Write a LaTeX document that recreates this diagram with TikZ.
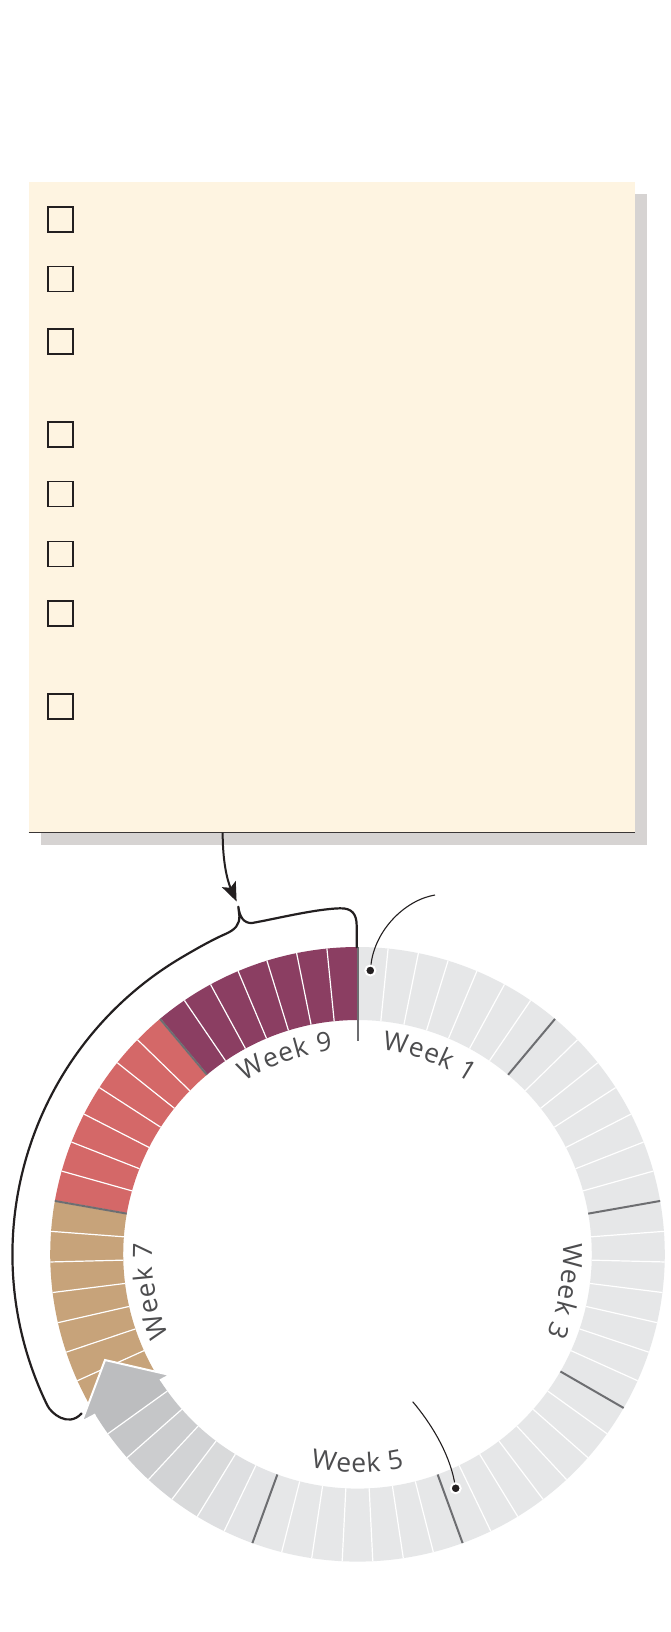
\documentclass[tikz,border=0pt]{standalone}
\usepackage{fontspec}
\newfontfamily\labfam{Open Sans}
\usetikzlibrary{arrows.meta}
\definecolor{panelfill}{HTML}{FEF4E1}
\definecolor{shadowcol}{HTML}{D6D3D2}
\definecolor{inkcol}{HTML}{231F20}
\definecolor{panelline}{HTML}{3A3636}
\definecolor{ringgray}{HTML}{E6E7E8}
\definecolor{arrowgray}{HTML}{BCBDBF}
\definecolor{wkline}{HTML}{6D6E71}
\definecolor{wkpurple}{HTML}{8B3E62}
\definecolor{wkred}{HTML}{D46868}
\definecolor{wktan}{HTML}{C7A37A}
\definecolor{labcol}{HTML}{4D4D4F}
\colorlet{wk1}{ringgray}
\colorlet{wk2}{ringgray}
\colorlet{wk3}{ringgray}
\colorlet{wk4}{ringgray}
\colorlet{wk5}{ringgray}
\colorlet{wk6}{ringgray}
\colorlet{wk7}{wktan}
\colorlet{wk8}{wkred}
\colorlet{wk9}{wkpurple}
\colorlet{w6d0}{arrowgray!6!ringgray}
\colorlet{w6d1}{arrowgray!18!ringgray}
\colorlet{w6d2}{arrowgray!32!ringgray}
\colorlet{w6d3}{arrowgray!47!ringgray}
\colorlet{w6d4}{arrowgray!62!ringgray}
\colorlet{w6d5}{arrowgray!78!ringgray}
\colorlet{w6d6}{arrowgray}
\newcommand\labfont{\labfam\fontsize{26.5}{28}\selectfont}
\newcommand\measurech[2]{\setbox0=\hbox{\labfont #2}\xdef#1{\strip@pt\wd0}}
\makeatletter
\AtBeginDocument{%
  \setbox0=\hbox{\labfont W}\xdef\chwW{\strip@pt\wd0}%
  \setbox0=\hbox{\labfont e}\xdef\chwe{\strip@pt\wd0}%
  \setbox0=\hbox{\labfont k}\xdef\chwk{\strip@pt\wd0}%
  \setbox0=\hbox{\labfont\ }\xdef\chwsp{\strip@pt\wd0}%
  \setbox0=\hbox{\labfont 1}\xdef\chwdig{\strip@pt\wd0}%
}
\makeatother
% #1 name, #2 centre angle, #3 baseline radius, #4 direction, #5 tracking, #6 char/width list
\newcommand\arclabel[6]{%
  \gdef\alNat{0}\gdef\alN{0}%
  \foreach \alC/\alW in {#6}{%
    \pgfmathsetmacro\alTmp{\alNat+\alW}\xdef\alNat{\alTmp}%
    \pgfmathsetmacro\alTmp{\alN+1}\xdef\alN{\alTmp}%
  }%
  \pgfmathsetmacro\alLen{\alNat+(#5)*(\alN-1)}%
  \gdef\alAcc{0}%
  \foreach \alC/\alW [count=\alI] in {#6}{%
    \pgfmathsetmacro\alAng{(#2)+(#4)*(\alLen/2-\alAcc-\alW/2)/(#3)*180/pi}%
    \pgfmathsetmacro\alRot{\alAng-(#4)*90}%
    \node[weeklab, rotate=\alRot] (#1-\alI) at (\alAng:#3) {\alC};%
    \pgfmathsetmacro\alTmp{\alAcc+\alW+(#5)}\xdef\alAcc{\alTmp}%
  }%
}
\tikzset{
  panelbox/.style={fill=panelfill, draw=none, minimum width=606.1pt, minimum height=650.5pt, inner sep=0pt, outer sep=0pt, anchor=north west},
  shadowbox/.style={fill=shadowcol, draw=none, minimum width=606.1pt, minimum height=650.5pt, inner sep=0pt, outer sep=0pt, anchor=north west},
  checkbox/.style={draw=inkcol, line width=1.6pt, minimum size=25pt, inner sep=0pt, outer sep=0pt},
  weeklab/.style={anchor=base, inner sep=0pt, outer sep=0pt, font=\labfont, text=labcol},
  daysep/.style={white, line width=1.2pt},
  weeksep/.style={wkline, line width=2pt},
  bracepath/.style={draw=inkcol, line width=2.2pt, line join=round, line cap=round},
  connector/.style={draw=inkcol, line width=2pt, -{Stealth[length=19pt, width=15pt, inset=4pt]}},
  callout/.style={draw=inkcol, line width=1.1pt},
  dot/.style={circle, fill=inkcol, draw=white, line width=2pt, minimum size=10pt, inner sep=0pt},
}
\begin{document}
\begin{tikzpicture}[x=1pt, y=1pt]
\useasboundingbox (0,0) rectangle (670,-1632);
\fill[white] (0,0) rectangle (670,-1632);
% panel
\node[shadowbox] (shadow) at (40.5,-194) {};
\node[panelbox] (panel) at (28.5,-182) {};
\draw[panelline, line width=1.6pt] (panel.south west) -- (panel.south east);
\foreach \yy [count=\i] in {219.6,278.9,341.4,434.3,493.9,553.9,613.6,706.4}
  \node[checkbox] (cb\i) at (60.3,-\yy) {};
% ring
\def\rin{234.3}
\def\rout{307.3}
\begin{scope}[shift={(357.5,-1254.3)}]
  \foreach \dy in {0,...,62}{%
    \pgfmathsetmacro\segA{90-\dy*40/7}%
    \pgfmathsetmacro\segB{90-(\dy+1)*40/7}%
    \pgfmathtruncatemacro\wkn{floor(\dy/7)+1}%
    \pgfmathtruncatemacro\dnum{\dy-7*(\wkn-1)}%
    \ifnum\wkn=6 \def\segcol{w6d\dnum}\else\def\segcol{wk\wkn}\fi
    \fill[fill=\segcol] (\segA:\rin) arc[start angle=\segA, end angle=\segB, radius=\rin]
      -- (\segB:\rout) arc[start angle=\segB, end angle=\segA, radius=\rout] -- cycle;
  }
  \foreach \dy in {1,...,62}{%
    \pgfmathsetmacro\segA{90-\dy*40/7}%
    \draw[daysep] (\segA:\rin) -- (\segA:\rout);
  }
  \foreach \k in {1,...,8}{%
    \pgfmathsetmacro\segA{90-40*\k}%
    \draw[weeksep] (\segA:\rin) -- (\segA:\rout);
  }
  \draw[weeksep] (90:213.5) -- (90:\rout);
  % arrow head
  \coordinate (ahtip) at (-252.5,-105.7);
  \coordinate (ahib) at (-187.5,-120.7);
  \coordinate (ahibk) at (-197.5,-126.0);
  \coordinate (ahobk) at (-262.2,-160.2);
  \coordinate (ahob) at (-275.8,-167.4);
  \fill[arrowgray] (ahtip) -- (ahib) -- (ahibk) -- (ahobk) -- (ahob) -- cycle;
  \draw[white, line width=2pt, line join=miter] (ahobk) -- (ahob) -- (ahtip) -- (ahib) -- (ahibk);
  % labels
  \arclabel{lw1}{70}{205.5}{1}{0.8}{W/\chwW,e/\chwe,e/\chwe,k/\chwk,{\ }/\chwsp,1/\chwdig}
  \arclabel{lw3}{-10}{205.5}{1}{0.8}{W/\chwW,e/\chwe,e/\chwe,k/\chwk,{\ }/\chwsp,3/\chwdig}
  \arclabel{lw5}{-90}{218}{-1}{0.8}{W/\chwW,e/\chwe,e/\chwe,k/\chwk,{\ }/\chwsp,5/\chwdig}
  \arclabel{lw7}{190}{205.5}{1}{0.8}{W/\chwW,e/\chwe,e/\chwe,k/\chwk,{\ }/\chwsp,7/\chwdig}
  \arclabel{lw9}{110}{205.5}{1}{0.8}{W/\chwW,e/\chwe,e/\chwe,k/\chwk,{\ }/\chwsp,9/\chwdig}
\end{scope}
% brace
\coordinate (braceend) at (81.5,-1413.5);
\coordinate (bracetip) at (238.3,-906.7);
\coordinate (bracefoot) at (356.7,-947.3);
\draw[bracepath] (braceend) .. controls (68,-1428) and (51,-1413) .. (47.4,-1405.5)
  arc[start angle=206, end angle=120, radius=345]
  .. controls (202,-945.5) and (215,-938.5) .. (226.5,-933.5)
  .. controls (235,-929.5) and (239.5,-925) .. (239.4,-916) -- (bracetip)
  .. controls (239.5,-917) and (244,-923.5) .. (252,-923)
  .. controls (275,-919) and (315,-909) .. (340,-908.3)
  .. controls (352,-908) and (356.7,-914) .. (356.7,-926) -- (bracefoot);
% connector from panel to brace
\coordinate (connstart) at (222.7,-832.5);
\coordinate (connend) at (236.6,-901.5);
\draw[connector] (connstart) .. controls (222.5,-860) and (227,-880) .. (connend);
% callouts
\node[dot] (dot1) at (370.3,-970.5) {};
\node[dot] (dot2) at (455.7,-1488.3) {};
\coordinate (c1start) at (435,-895);
\coordinate (c2start) at (412.7,-1401.7);
\draw[callout] (c1start) .. controls (405,-900) and (375,-930) .. (dot1);
\draw[callout] (c2start) .. controls (430,-1422) and (449,-1452) .. (dot2);
\end{tikzpicture}
\end{document}
